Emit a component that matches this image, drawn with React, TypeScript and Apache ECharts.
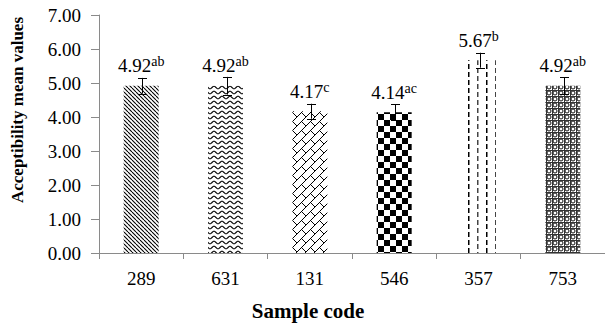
import React, { useEffect, useRef } from "react";
import * as echarts from "echarts";

const categories = ["289", "631", "131", "546", "357", "753"];
const means = [4.92, 4.92, 4.17, 4.14, 5.67, 4.92];
const errors = [0.23, 0.26, 0.22, 0.24, 0.22, 0.25];
const letters = ["ab", "ab", "c", "ac", "b", "ab"];
const patternKinds = ["diag", "wave", "brick", "checker", "vdash", "dense"];
const yTicks = { min: 0, max: 7, interval: 1 };

const FONT = "Liberation Serif";
const SUP_FONT = "'Times New Roman', 'Liberation Serif', serif";

function makePattern(kind: string): HTMLCanvasElement {
  const c = document.createElement("canvas");
  let w = 8, h = 8;
  if (kind === "diag") { w = 4; h = 4; }
  if (kind === "wave") { w = 8; h = 5; }
  if (kind === "brick") { w = 9; h = 9; }
  if (kind === "checker") { w = 12; h = 12; }
  if (kind === "vdash") { w = 18; h = 16; }
  if (kind === "dense") { w = 6; h = 6; }
  c.width = w; c.height = h;
  const g = c.getContext("2d")!;
  g.fillStyle = "#fff";
  g.fillRect(0, 0, w, h);
  g.strokeStyle = "#000";
  g.fillStyle = "#000";
  if (kind === "diag") {
    g.lineWidth = 1.1;
    for (let o = -8; o <= 8; o += 4) {
      g.beginPath(); g.moveTo(o, 0); g.lineTo(o + 4, 4); g.stroke();
    }
  } else if (kind === "wave") {
    g.lineWidth = 1.1;
    g.beginPath();
    for (let x = -1; x <= w + 1; x += 0.5) {
      const y = 2.5 + 1.3 * Math.sin((2 * Math.PI * x) / 8);
      if (x === -1) g.moveTo(x, y); else g.lineTo(x, y);
    }
    g.stroke();
  } else if (kind === "brick") {
    g.lineWidth = 1;
    for (let o = -w; o <= w; o += w) {
      g.beginPath(); g.moveTo(o - 1, h + 1); g.lineTo(o + w + 1, -1); g.stroke();
    }
    g.beginPath(); g.moveTo(w / 2, h / 2); g.lineTo(w, h); g.stroke();
    g.beginPath(); g.moveTo(-w / 2, h / 2); g.lineTo(0, h); g.stroke();
    g.beginPath(); g.moveTo(w / 2, -h / 2); g.lineTo(w, 0); g.stroke();
  } else if (kind === "checker") {
    g.fillRect(0, 0, 6, 6);
    g.fillRect(6, 6, 6, 6);
  } else if (kind === "vdash") {
    g.fillRect(0, 0, 1.5, 5);
    g.fillRect(0, 8, 1.5, 5);
    g.fillStyle = "#444";
    g.fillRect(9, 4, 1.5, 5);
    g.fillRect(9, 12, 1.5, 4);
    g.fillRect(9, 0, 1.5, 1);
  } else if (kind === "dense") {
    g.lineWidth = 1;
    g.strokeStyle = "#111";
    g.beginPath(); g.arc(3, 3, 2, 0, Math.PI * 2); g.stroke();
    g.fillStyle = "#333";
    g.fillRect(0, 0, 1, 6); g.fillRect(0, 0, 6, 1);
  }
  return c;
}

export default function App() {
  const ref = useRef<HTMLDivElement>(null);
  useEffect(() => {
    if (!ref.current) return;
    const chart = echarts.init(ref.current, undefined, { renderer: "svg" });
    const barData = means.map((v, i) => ({
      value: v,
      itemStyle: { color: { image: makePattern(patternKinds[i]), repeat: "repeat" } as any },
      label: { formatter: `{v|${v.toFixed(2)}}{s|${letters[i]}}` },
    }));
    const errData = means.map((v, i) => [i, v - errors[i], v + errors[i]]);
    chart.setOption({
      animation: false,
      grid: { left: 99, right: -3, top: 15, bottom: 71 },
      xAxis: {
        type: "category",
        data: categories,
        axisLine: { lineStyle: { color: "#8a8a8a", width: 1 } },
        axisTick: { show: true, length: 6, lineStyle: { color: "#8a8a8a" } },
        axisLabel: { color: "#000", fontFamily: FONT, fontSize: 19, margin: 16 },
      },
      yAxis: {
        type: "value",
        min: yTicks.min,
        max: yTicks.max,
        interval: yTicks.interval,
        axisLine: { show: true, lineStyle: { color: "#8a8a8a", width: 1 } },
        axisTick: { show: true, length: 8, lineStyle: { color: "#8a8a8a" } },
        splitLine: { show: false },
        axisLabel: {
          color: "#000", fontFamily: FONT, fontSize: 19, margin: 18,
          formatter: (v: number) => v.toFixed(2),
        },
      },
      series: [
        {
          type: "bar",
          data: barData,
          barWidth: 35,
          label: {
            show: true,
            position: "top",
            distance: 9,
            fontFamily: FONT,
            fontSize: 19,
            color: "#000",
            rich: {
              v: { fontFamily: FONT, fontSize: 19, color: "#000", lineHeight: 22 },
              s: { fontFamily: SUP_FONT, fontSize: 14, color: "#000", lineHeight: 12, verticalAlign: "top" },
            },
          },
        },
        {
          type: "custom",
          data: errData,
          z: 10,
          renderItem: (params: any, api: any) => {
            const x = api.value(0);
            const lo = api.coord([x, api.value(1)]);
            const hi = api.coord([x, api.value(2)]);
            const cx = Math.round(lo[0]) + 1.5;
            const w = 4.5;
            const st = { stroke: "#000", lineWidth: 1 };
            return {
              type: "group",
              children: [
                { type: "line", shape: { x1: cx, y1: lo[1], x2: cx, y2: hi[1] }, style: st },
                { type: "line", shape: { x1: cx - w, y1: Math.round(hi[1]) + 0.5, x2: cx + w, y2: Math.round(hi[1]) + 0.5 }, style: st },
                { type: "line", shape: { x1: cx - w, y1: Math.round(lo[1]) + 0.5, x2: cx + w, y2: Math.round(lo[1]) + 0.5 }, style: st },
              ],
            };
          },
        },
      ],
      graphic: [
        {
          type: "text",
          x: 17,
          y: 110,
          rotation: Math.PI / 2,
          style: {
            text: "Acceptibility mean values",
            fontFamily: FONT,
            fontWeight: "bold",
            fontSize: 17,
            fill: "#000",
            align: "center",
            verticalAlign: "middle",
          },
        },
        {
          type: "text",
          x: 308,
          y: 311,
          style: {
            text: "Sample code",
            fontFamily: FONT,
            fontWeight: "bold",
            fontSize: 21,
            fill: "#000",
            align: "center",
            verticalAlign: "middle",
          },
        },
      ],
    });
    return () => chart.dispose();
  }, []);
  return <div ref={ref} style={{ width: 605, height: 324, position: "absolute", left: 0, top: 0 }} />;
}
